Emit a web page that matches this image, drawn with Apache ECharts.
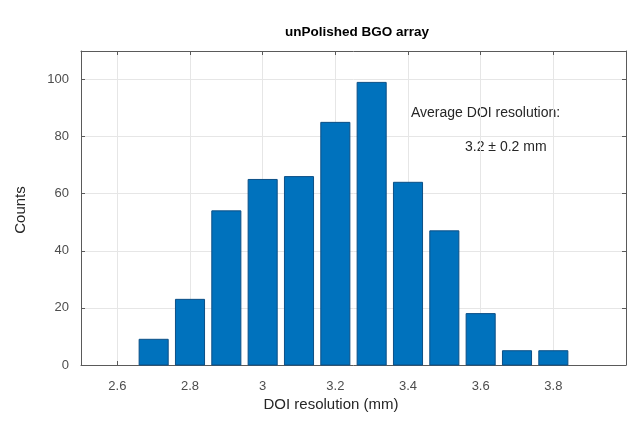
<!DOCTYPE html>
<html>
<head>
<meta charset="utf-8">
<script src="https://cdn.jsdelivr.net/npm/echarts@6/dist/echarts.min.js"></script>
<style>
  html, body { margin: 0; padding: 0; background: #fff; }
  #chart { width: 627px; height: 428px; }
</style>
</head>
<body>
<div id="chart"></div>
<script>
// Histogram of DOI resolution for the unpolished BGO array
const binCenters = [2.7, 2.8, 2.9, 3.0, 3.1, 3.2, 3.3, 3.4, 3.5, 3.6, 3.7, 3.8];
const counts     = [9, 23, 54, 65, 66, 85, 99, 64, 47, 18, 5, 5];
const xTicks     = [2.6, 2.8, 3.0, 3.2, 3.4, 3.6, 3.8, 4.0];
const yTicks     = [0, 20, 40, 60, 80, 100];
const binWidth   = 0.1;

const BAR_FILL = 0.8;
const FONT = '"Liberation Sans", Arial, Helvetica, sans-serif';
const AXIS_COLOR = '#5a5a5a';

const chart = echarts.init(document.getElementById('chart'), null, { renderer: 'canvas' });

const gridLine = { show: true, lineStyle: { color: '#e6e6e6', width: 1 } };

function xAxisDef(pos, showLabels) {
  return {
    type: 'value',
    position: pos,
    min: 2.5,
    max: 4.0,
    axisLine: { show: true, onZero: false, lineStyle: { color: AXIS_COLOR, width: 1 } },
    axisTick: { show: true, inside: true, length: 4, customValues: xTicks, lineStyle: { color: AXIS_COLOR } },
    axisLabel: {
      show: showLabels,
      customValues: xTicks.slice(0, -1),
      formatter: v => String(+v.toFixed(1)),
      color: '#4d4d4d', fontSize: 13, fontFamily: FONT, margin: 15
    },
    splitLine: showLabels ? Object.assign({ customValues: xTicks }, gridLine) : { show: false }
  };
}

function yAxisDef(pos, showLabels) {
  return {
    type: 'value',
    position: pos,
    min: 0,
    max: 110,
    axisLine: { show: true, lineStyle: { color: AXIS_COLOR, width: 1 } },
    axisTick: { show: true, inside: true, length: 4, customValues: yTicks, lineStyle: { color: AXIS_COLOR } },
    axisLabel: {
      show: showLabels,
      customValues: yTicks,
      color: '#4d4d4d', fontSize: 13, fontFamily: FONT, margin: 12
    },
    splitLine: showLabels ? Object.assign({ customValues: yTicks }, gridLine) : { show: false }
  };
}

chart.setOption({
  backgroundColor: '#ffffff',
  animation: false,
  title: {
    text: 'unPolished BGO array',
    left: 352, top: 20, textAlign: 'center',
    textStyle: { fontFamily: FONT, fontSize: 13.5, fontWeight: 'bold', color: '#000' }
  },
  grid: { left: 81, right: 1, top: 51, bottom: 63 },
  xAxis: [xAxisDef('bottom', true), xAxisDef('top', false)],
  yAxis: [yAxisDef('left', true), yAxisDef('right', false)],
  series: [{
    type: 'custom',
    xAxisIndex: 0,
    yAxisIndex: 0,
    data: binCenters.map((c, i) => [c, counts[i]]),
    renderItem: function (params, api) {
      const c = api.value(0);
      const half = binWidth * BAR_FILL / 2;
      const p0 = api.coord([c - half, api.value(1)]);
      const p1 = api.coord([c + half, 0]);
      return {
        type: 'rect',
        shape: { x: p0[0], y: p0[1], width: p1[0] - p0[0], height: p1[1] - p0[1] },
        style: { fill: '#0072BD', stroke: '#0b4f86', lineWidth: 1 }
      };
    }
  }],
  graphic: [
    {
      type: 'text', x: 331, y: 405,
      style: { text: 'DOI resolution (mm)', fontFamily: FONT, fontSize: 15, fill: '#262626', textAlign: 'center', textVerticalAlign: 'middle' }
    },
    {
      type: 'text', x: 21, y: 210, rotation: Math.PI / 2,
      style: { text: 'Counts', fontFamily: FONT, fontSize: 15, fill: '#262626', textAlign: 'center', textVerticalAlign: 'middle' }
    },
    {
      type: 'text', x: 411, y: 113,
      style: { text: 'Average DOI resolution:', fontFamily: FONT, fontSize: 14, fill: '#262626', textVerticalAlign: 'middle' }
    },
    {
      type: 'text', x: 465, y: 147,
      style: { text: '3.2 \u00b1 0.2 mm', fontFamily: FONT, fontSize: 14, fill: '#262626', textVerticalAlign: 'middle' }
    }
  ]
});
</script>
</body>
</html>
